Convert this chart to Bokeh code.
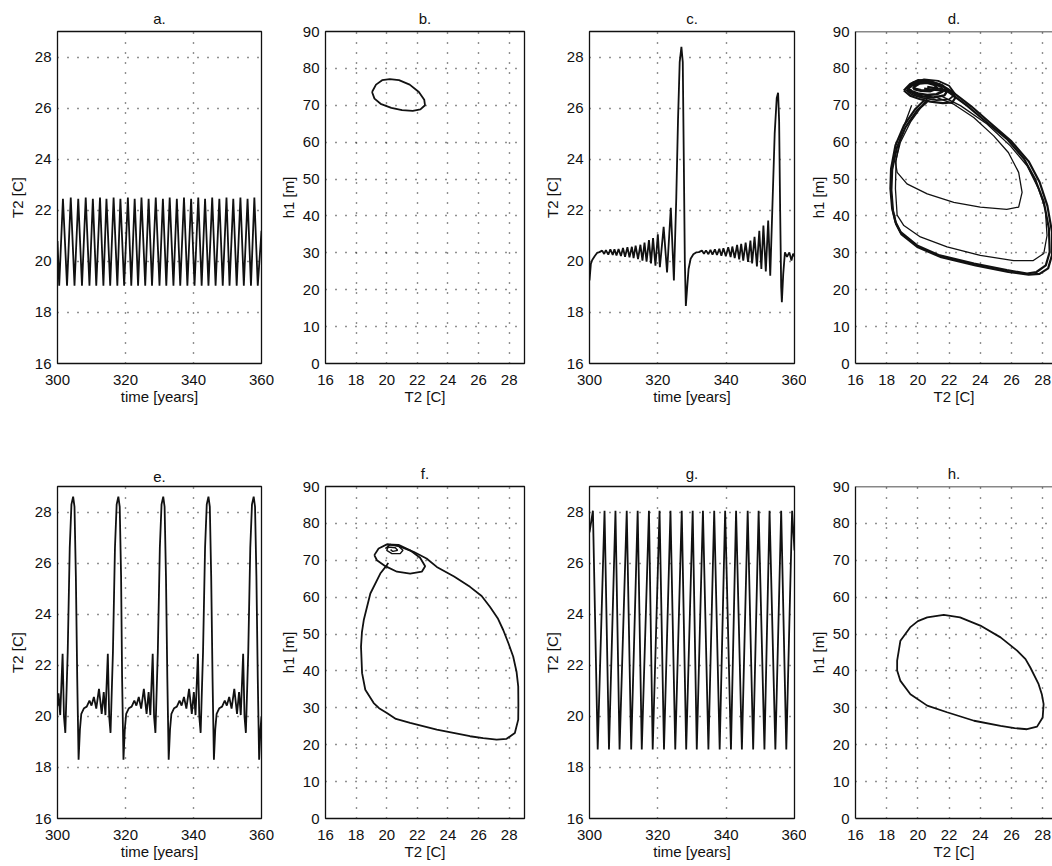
from bokeh.plotting import figure
from bokeh.layouts import row, column
from bokeh.models import Range1d, FixedTicker, Span
from bokeh.embed import file_html
from bokeh.resources import INLINE

FONT = "Liberation Sans"
INK = "#111111"

# ---------------- data ----------------
time_ticks = [300, 320, 340, 360]
temp_ticks = [16, 18, 20, 22, 24, 26, 28]
phase_x_ticks = [16, 18, 20, 22, 24, 26, 28]
phase_y_ticks = [0, 10, 20, 30, 40, 50, 60, 70, 80, 90]

# panel a: regular oscillation (extrema)
a_time = [300.0, 300.5, 301.6, 302.8, 303.9, 305.0, 306.1, 307.2, 308.3, 309.4, 310.4,
          311.4, 312.5, 313.5, 314.4, 315.5, 316.5, 317.6, 318.5, 319.6, 320.7, 321.7,
          322.7, 323.7, 324.7, 325.8, 326.8, 327.8, 328.9, 330.0, 331.0, 332.0, 333.0,
          334.1, 335.1, 336.1, 337.2, 338.2, 339.3, 340.3, 341.4, 342.4, 343.4, 344.4,
          345.5, 346.5, 347.6, 348.6, 349.7, 350.6, 351.7, 352.7, 353.8, 354.8, 355.9,
          356.9, 357.9, 358.9, 360.0]
a_T2 = [20.8, 19.05, 22.45, 19.05, 22.5, 19.05, 22.45, 19.05, 22.5, 19.05, 22.45,
        19.05, 22.5, 19.05, 22.45, 19.05, 22.5, 19.05, 22.45, 19.05, 22.5, 19.05,
        22.45, 19.05, 22.5, 19.05, 22.45, 19.05, 22.5, 19.05, 22.45, 19.05, 22.5,
        19.05, 22.45, 19.05, 22.5, 19.05, 22.45, 19.05, 22.5, 19.05, 22.45, 19.05,
        22.5, 19.05, 22.45, 19.05, 22.5, 19.05, 22.45, 19.05, 22.5, 19.05, 22.45,
        19.05, 22.5, 19.05, 21.2]

# panel b: small limit cycle
b_T2 = [19.04, 19.3, 19.7, 20.2, 20.8, 21.5, 22.1, 22.45, 22.5, 22.2, 21.7, 21.0,
        20.3, 19.6, 19.2, 19.04]
b_h1 = [73.6, 75.6, 76.8, 77.1, 76.8, 75.6, 73.6, 71.5, 70.0, 68.9, 68.5, 68.7,
        69.3, 70.4, 71.8, 73.6]

# panel c: growing oscillations with bursts
c_time = [300.0, 300.4, 300.8, 301.5, 302.2, 302.9, 303.7, 304.3, 304.8, 305.5, 306.1,
          306.8, 307.3, 307.9, 308.5, 309.2, 309.8, 310.4, 311.1, 311.7, 312.4, 312.9,
          313.5, 314.2, 314.9, 315.5, 316.1, 316.7, 317.4, 318.0, 318.6, 319.3, 320.0,
          320.6, 321.7, 322.7, 323.8, 324.7, 325.4, 325.9, 326.4, 326.9, 327.3, 327.6,
          327.9, 328.2, 328.6, 329.0, 329.6, 330.4, 331.2, 332.0, 332.9, 333.5, 334.1,
          334.8, 335.4, 336.0, 336.7, 337.3, 338.0, 338.6, 339.2, 339.9, 340.6, 341.3,
          341.8, 342.5, 343.2, 343.8, 344.4, 345.0, 345.7, 346.4, 347.1, 347.6, 348.3,
          349.0, 349.7, 350.3, 350.9, 351.6, 352.3, 352.9, 353.5, 354.2, 354.8, 355.2,
          355.5, 355.8, 356.1, 356.3, 356.7, 357.2, 357.8, 358.5, 359.1, 359.6, 360.0]
c_T2 = [19.25, 19.9, 20.05, 20.2, 20.33, 20.36, 20.42, 20.29, 20.44, 20.26, 20.47,
        20.25, 20.47, 20.23, 20.48, 20.21, 20.52, 20.18, 20.55, 20.16, 20.57, 20.13,
        20.61, 20.09, 20.65, 20.03, 20.73, 19.99, 20.83, 19.92, 20.91, 19.83, 21.06,
        19.77, 21.35, 19.57, 22.1, 19.25, 22.5, 25.5, 27.8, 28.4, 27.8, 24.0,
        20.0, 18.25, 19.0, 19.7, 20.1, 20.28, 20.35, 20.36, 20.42, 20.3, 20.43,
        20.28, 20.45, 20.26, 20.47, 20.25, 20.49, 20.22, 20.51, 20.2, 20.55, 20.17,
        20.58, 20.13, 20.64, 20.08, 20.68, 20.03, 20.73, 19.98, 20.81, 19.92, 20.96,
        19.8, 21.2, 19.7, 21.4, 19.6, 21.6, 19.44, 22.0, 25.0, 26.4, 26.6,
        25.5, 22.0, 19.0, 18.4, 19.5, 20.35, 20.18, 20.35, 20.03, 20.3, 20.2]

# panel d: chaotic attractor (several passes)
d_outer_T2 = [20.4, 21.9, 23.15, 24.4, 25.7, 26.8, 27.5, 28.07, 28.4, 28.45, 28.2, 27.6,
              27.0, 25.7, 23.6, 21.4, 19.95, 18.9, 18.56, 18.35, 18.24, 18.28, 18.56,
              19.1, 19.84, 20.4]
d_outer_h1 = [74.5, 73.8, 69.9, 65.4, 60.9, 55.5, 50.1, 43.8, 36.6, 30.2, 26.6, 24.8,
              24.4, 25.3, 27.1, 29.3, 32.0, 35.6, 38.4, 42.0, 47.4, 52.8, 59.1, 64.5,
              69.0, 71.3]
d_outer2_T2 = [20.6, 22.1, 23.4, 24.7, 26.0, 27.1, 27.8, 28.3, 28.6, 28.6, 28.35, 27.8,
               27.1, 25.8, 23.7, 21.5, 20.0, 18.95, 18.6, 18.4, 18.3, 18.35, 18.65, 19.2,
               19.95, 20.6]
d_outer2_h1 = [75.0, 74.0, 69.8, 65.0, 60.2, 54.8, 49.2, 42.8, 35.6, 29.4, 25.8, 24.3,
               24.1, 24.8, 26.6, 28.8, 31.5, 35.0, 37.8, 41.5, 47.0, 52.5, 58.5, 64.0,
               68.6, 71.0]
d_mid_T2 = [19.6, 18.9, 18.6, 18.56, 18.67, 19.1, 20.16, 21.87, 24.0, 26.14, 27.4, 28.07,
            28.28, 28.17, 27.74, 27.0, 25.93, 24.43, 22.73, 21.45]
d_mid_h1 = [70.0, 62.0, 55.0, 47.4, 40.2, 37.4, 34.3, 31.6, 29.3, 27.9, 27.9, 29.8,
            34.7, 41.9, 47.3, 53.6, 59.0, 64.9, 69.9, 72.6]
d_inner_T2 = [20.6, 19.52, 18.88, 18.56, 18.67, 19.3, 20.6, 22.3, 24.0, 25.7, 26.46,
              26.68, 26.46, 25.8, 24.86, 23.58, 22.3, 21.23]
d_inner_h1 = [71.8, 65.4, 60.0, 54.6, 51.8, 48.7, 46.0, 43.7, 42.4, 41.8, 42.4, 46.4,
              51.8, 57.2, 61.7, 66.7, 70.3, 72.1]
d_spiral1_T2 = [19.1, 19.5, 20.0, 20.7, 21.4, 22.0, 22.4, 22.2, 21.6, 20.8, 20.1, 19.5, 19.1]
d_spiral1_h1 = [74.0, 75.8, 76.8, 76.6, 75.7, 74.2, 72.0, 70.8, 70.6, 71.0, 71.7, 72.6, 74.0]
d_spiral2_T2 = [19.4, 19.8, 20.4, 21.0, 21.5, 21.6, 21.2, 20.6, 20.0, 19.6, 19.4]
d_spiral2_h1 = [74.6, 76.0, 76.5, 76.0, 75.0, 73.8, 73.0, 72.8, 73.2, 73.8, 74.6]
d_spiral3_T2 = [19.7, 20.1, 20.6, 21.1, 21.2, 20.8, 20.2, 19.8, 19.7]
d_spiral3_h1 = [75.0, 76.0, 76.2, 75.6, 74.6, 73.9, 74.0, 74.4, 75.0]
d_spiral4_T2 = [19.2, 19.7, 20.4, 21.3, 22.0, 22.4, 22.0, 21.2, 20.3, 19.6, 19.2]
d_spiral4_h1 = [74.3, 76.2, 77.0, 76.6, 75.3, 73.0, 71.6, 71.4, 72.0, 72.9, 74.3]
d_spiral5_T2 = [19.3, 19.6, 20.2, 20.9, 21.6, 21.9, 21.7, 21.0, 20.3, 19.7, 19.3]
d_spiral5_h1 = [74.2, 75.6, 76.4, 76.3, 75.3, 74.0, 72.7, 72.1, 72.4, 73.2, 74.2]

# panel e: relaxation bursts
e_time = [300.0, 300.3, 300.8, 301.5, 301.9, 302.3, 303.0, 303.6, 304.1, 304.6, 305.0,
          305.4, 305.8, 306.2,
          306.6, 307.0, 307.8, 308.6, 309.4, 310.0, 310.7, 311.4, 312.2, 313.0, 313.6,
          314.1, 314.8, 315.2, 315.6, 316.3, 316.9, 317.4, 317.9, 318.3, 318.7, 319.0, 319.4,
          319.8, 320.2, 321.0, 321.8, 322.6, 323.2, 323.9, 324.6, 325.4, 326.2, 326.8,
          327.3, 328.0, 328.4, 328.8, 329.5, 330.1, 330.6, 331.1, 331.5, 331.9, 332.3, 332.7,
          333.1, 333.5, 334.3, 335.1, 335.9, 336.5, 337.2, 337.9, 338.7, 339.5, 340.1,
          340.6, 341.3, 341.7, 342.1, 342.8, 343.4, 343.9, 344.4, 344.8, 345.2, 345.6, 346.0,
          346.4, 346.8, 347.6, 348.4, 349.2, 349.8, 350.5, 351.2, 352.0, 352.8, 353.4,
          353.9, 354.6, 355.0, 355.4, 356.1, 356.7, 357.2, 357.7, 358.1, 358.5, 358.9, 359.3,
          359.7, 360.0]
e_T2 = [20.4, 20.9, 20.05, 22.45, 20.0, 19.35, 22.5, 26.6, 28.3, 28.6, 28.2,
        25.5, 21.5, 18.3,
        19.5, 20.1, 20.32, 20.38, 20.62, 20.42, 20.76, 20.3, 21.08, 20.1, 20.95,
        20.05, 22.45, 20.0, 19.35, 22.5, 26.6, 28.3, 28.6, 28.2, 25.5, 21.5, 18.3,
        19.5, 20.1, 20.32, 20.38, 20.62, 20.42, 20.76, 20.3, 21.08, 20.1, 20.95,
        20.05, 22.45, 20.0, 19.35, 22.5, 26.6, 28.3, 28.6, 28.2, 25.5, 21.5, 18.3,
        19.5, 20.1, 20.32, 20.38, 20.62, 20.42, 20.76, 20.3, 21.08, 20.1, 20.95,
        20.05, 22.45, 20.0, 19.35, 22.5, 26.6, 28.3, 28.6, 28.2, 25.5, 21.5, 18.3,
        19.5, 20.1, 20.32, 20.38, 20.62, 20.42, 20.76, 20.3, 21.08, 20.1, 20.95,
        20.05, 22.45, 20.0, 19.35, 22.5, 26.6, 28.3, 28.6, 28.2, 25.5, 21.5, 18.3,
        19.5, 20.0]

# panel f: large orbit with a small spiral
f_loop_T2 = [20.01, 20.67, 21.75, 22.6, 23.27, 24.4, 25.44, 26.2, 26.74, 27.25, 27.61,
             27.95, 28.26, 28.48, 28.59, 28.6, 28.59, 28.37, 27.83, 27.18, 26.3, 25.44,
             23.27, 21.53, 20.6, 20.01, 19.5, 19.15, 18.6, 18.39, 18.32, 18.38, 18.5,
             18.93, 19.58, 20.01, 20.1]
f_loop_h1 = [74.3, 74.0, 72.3, 70.5, 68.2, 65.6, 62.8, 60.3, 57.4, 54.3, 51.1,
             47.5, 43.9, 39.8, 35.8, 31.0, 26.8, 23.2, 21.6, 21.4, 21.8, 22.3,
             24.1, 25.9, 27.0, 28.6, 29.9, 31.3, 34.9, 39.4, 46.6, 50.5, 53.8,
             61.0, 66.4, 68.7, 69.3]
f_ellipse_T2 = [19.19, 19.47, 20.01, 20.77, 21.53, 22.18, 22.51, 22.29, 21.53, 20.67,
                19.91, 19.36, 19.19]
f_ellipse_h1 = [71.4, 73.2, 74.3, 74.2, 72.7, 70.7, 68.4, 66.9, 66.4, 66.9, 68.4, 70.0, 71.4]
f_spiral_T2 = [19.91, 20.23, 20.77, 21.06, 20.88, 20.34, 20.0, 20.1, 20.56, 20.71, 20.4, 20.25]
f_spiral_h1 = [73.2, 74.3, 73.8, 72.7, 71.8, 71.8, 72.7, 73.6, 73.4, 72.7, 72.4, 72.9]

# panel g: large regular oscillation (extrema)
g_time = [300.0, 301.0, 302.4, 304.4, 305.7, 307.6, 308.8, 310.9, 312.2, 314.1, 315.3,
          317.4, 318.5, 320.5, 321.8, 323.7, 325.1, 327.0, 328.3, 330.2, 331.4, 333.2,
          334.8, 336.5, 338.1, 339.7, 341.4, 342.9, 344.6, 346.3, 347.9, 349.5, 351.2,
          352.7, 354.4, 356.1, 357.6, 359.3, 360.0]
g_T2 = [27.2, 28.05, 18.7, 28.05, 18.7, 28.05, 18.7, 28.05, 18.7, 28.05, 18.7,
        28.05, 18.7, 28.05, 18.7, 28.05, 18.7, 28.05, 18.7, 28.05, 18.7, 28.05,
        18.7, 28.05, 18.7, 28.05, 18.7, 28.05, 18.7, 28.05, 18.7, 28.05, 18.7,
        28.05, 18.7, 28.05, 18.7, 28.05, 26.5]

# panel h: large limit cycle
h_T2 = [18.67, 18.88, 19.5, 20.0, 20.6, 21.66, 22.7, 24.0, 25.3, 26.36, 26.9, 27.2,
        27.74, 27.95, 28.06, 28.0, 27.64, 27.0, 26.2, 25.3, 23.6, 21.87, 20.6, 19.52,
        18.88, 18.67, 18.67]
h_h1 = [42.8, 48.2, 51.8, 53.5, 54.5, 55.2, 54.5, 52.3, 49.1, 45.5, 43.2, 41.0,
        36.4, 33.6, 31.0, 27.4, 24.9, 24.2, 24.5, 25.1, 26.5, 28.8, 30.6, 33.7,
        37.3, 40.1, 42.8]


# ---------------- helpers ----------------
def panel(title, xr, yr, xticks, yticks, xlabel, ylabel, W, H, L, R, T, B,
          open_right=False, ylab_standoff=3):
    p = figure(frame_width=W, frame_height=H, min_border_left=L, min_border_right=R,
               min_border_top=T, min_border_bottom=B,
               x_range=Range1d(*xr), y_range=Range1d(*yr),
               output_backend="svg", toolbar_location=None, title=title)
    p.background_fill_color = "white"
    p.border_fill_color = "white"
    p.title.align = "center"
    p.title.text_font = FONT
    p.title.text_font_size = "15px"
    p.title.text_font_style = "normal"
    p.title.text_color = INK
    p.title.standoff = 10
    p.xaxis.ticker = FixedTicker(ticks=xticks)
    p.yaxis.ticker = FixedTicker(ticks=yticks)
    for ax in (p.xaxis[0], p.yaxis[0]):
        ax.major_tick_line_color = None
        ax.minor_tick_line_color = None
        ax.major_tick_out = 0
        ax.major_tick_in = 0
        ax.minor_tick_out = 0
        ax.minor_tick_in = 0
        ax.major_label_text_font = FONT
        ax.major_label_text_font_size = "15px"
        ax.major_label_text_color = INK
        ax.axis_label_text_font = FONT
        ax.axis_label_text_font_size = "15px"
        ax.axis_label_text_font_style = "normal"
        ax.axis_label_text_color = INK
    p.xaxis.major_label_standoff = 11
    p.yaxis.major_label_standoff = 6
    p.xaxis.axis_label = xlabel
    p.yaxis.axis_label = ylabel
    p.xaxis.axis_label_standoff = 0
    p.yaxis.axis_label_standoff = ylab_standoff
    for g in (p.xgrid[0], p.ygrid[0]):
        g.grid_line_color = "#222222"
        g.grid_line_dash = "1 9"
        g.grid_line_width = 1.4
    if open_right:
        p.outline_line_color = None
        p.xaxis.axis_line_color = INK
        p.yaxis.axis_line_color = INK
        p.xaxis.axis_line_width = 1.3
        p.yaxis.axis_line_width = 1.3
        p.add_layout(Span(location=yr[1], dimension="width", line_color=INK, line_width=1.3))
    else:
        p.outline_line_color = INK
        p.outline_line_width = 1.3
        p.outline_line_alpha = 1.0
        p.xaxis.axis_line_color = None
        p.yaxis.axis_line_color = None
    return p


TR = (300, 360)
TY = (16, 29)
PX = (16, 29)
PXO = (16, 28.63)
PY = (0, 90)
LW = 1.8

H1, H2 = 332, 332
T1, B1, T2, B2 = 31, 92, 31, 46

# row 1
pa = panel("a.", TR, TY, time_ticks, temp_ticks, "time [years]", "T2 [C]", 204, H1, 57, 14, T1, B1, ylab_standoff=6)
pa.line(a_time, a_T2, line_color=INK, line_width=LW)

pb = panel("b.", PX, PY, phase_x_ticks, phase_y_ticks, "T2 [C]", "h1 [m]", 199, H1, 50, 14, T1, B1)
pb.line(b_T2, b_h1, line_color=INK, line_width=LW)

pc = panel("c.", TR, TY, time_ticks, temp_ticks, "time [years]", "T2 [C]", 205, H1, 51, 12, T1, B1)
pc.line(c_time, c_T2, line_color=INK, line_width=LW)

pd = panel("d.", PXO, PY, phase_x_ticks, phase_y_ticks, "T2 [C]", "h1 [m]", 197, H1, 49, 0, T1, B1, open_right=True)
for xs, ys, w in [(d_outer_T2, d_outer_h1, 2.2), (d_outer2_T2, d_outer2_h1, 2.2),
                  (d_mid_T2, d_mid_h1, 1.3), (d_inner_T2, d_inner_h1, 1.3),
                  (d_spiral1_T2, d_spiral1_h1, 2.2), (d_spiral2_T2, d_spiral2_h1, 2.6),
                  (d_spiral3_T2, d_spiral3_h1, 3.2), (d_spiral4_T2, d_spiral4_h1, 1.8),
                  (d_spiral5_T2, d_spiral5_h1, 2.4)]:
    pd.line(xs, ys, line_color=INK, line_width=w)

# row 2
pe = panel("e.", TR, TY, time_ticks, temp_ticks, "time [years]", "T2 [C]", 204, H2, 57, 14, T2, B2, ylab_standoff=6)
pe.line(e_time, e_T2, line_color=INK, line_width=LW)

pf = panel("f.", PX, PY, phase_x_ticks, phase_y_ticks, "T2 [C]", "h1 [m]", 199, H2, 50, 14, T2, B2)
pf.line(f_loop_T2, f_loop_h1, line_color=INK, line_width=LW)
pf.line(f_ellipse_T2, f_ellipse_h1, line_color=INK, line_width=LW)
pf.line(f_spiral_T2, f_spiral_h1, line_color=INK, line_width=1.4)

pg = panel("g.", TR, TY, time_ticks, temp_ticks, "time [years]", "T2 [C]", 205, H2, 51, 12, T2, B2)
pg.line(g_time, g_T2, line_color=INK, line_width=LW)

ph = panel("h.", PXO, PY, phase_x_ticks, phase_y_ticks, "T2 [C]", "h1 [m]", 197, H2, 49, 0, T2, B2, open_right=True)
ph.line(h_T2, h_h1, line_color=INK, line_width=LW)

layout = column(row(pa, pb, pc, pd), row(pe, pf, pg, ph))

with open("out.html", "w") as fh:
    fh.write(file_html(layout, INLINE))
